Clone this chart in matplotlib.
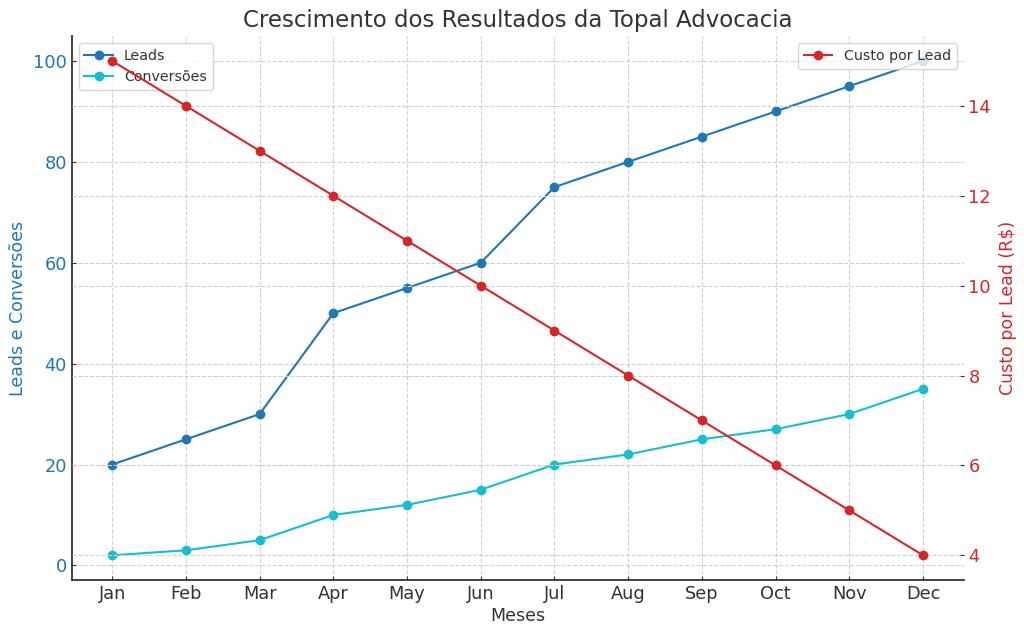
import matplotlib.pyplot as plt

# Dados
meses = ["Jan", "Feb", "Mar", "Apr", "May", "Jun", "Jul", "Aug", "Sep", "Oct", "Nov", "Dec"]
leads = [20, 25, 30, 50, 55, 60, 75, 80, 85, 90, 95, 100]
conversoes = [2, 3, 5, 10, 12, 15, 20, 22, 25, 27, 30, 35]
custo_por_lead = [15, 14, 13, 12, 11, 10, 9, 8, 7, 6, 5, 4]

texto = '#333333'
plt.rcParams['text.color'] = texto
plt.rcParams['axes.labelcolor'] = texto
plt.rcParams['xtick.color'] = texto
plt.rcParams['ytick.color'] = texto
plt.rcParams['xtick.direction'] = 'in'
plt.rcParams['ytick.direction'] = 'in'
plt.rcParams['legend.fontsize'] = 10.2

fig, ax1 = plt.subplots(figsize=(10.24, 6.36), dpi=100)

ax1.plot(meses, leads, marker='o', color='tab:blue', label='Leads')
ax1.plot(meses, conversoes, marker='o', color='tab:cyan', label='Conversões')
ax1.set_xlabel('Meses', fontsize=12.5, labelpad=3)
ax1.set_ylabel('Leads e Conversões', color='tab:blue', fontsize=12.5)
ax1.tick_params(axis='y', labelcolor='tab:blue', labelsize=12.8, length=3)
ax1.tick_params(axis='x', labelsize=12.8, length=3)
ax1.grid(True, linestyle='--', color='#d0d0d0', linewidth=0.8)
ax1.legend(loc='upper left')

ax2 = ax1.twinx()
ax2.plot(meses, custo_por_lead, marker='o', color='tab:red', label='Custo por Lead')
ax2.set_ylabel('Custo por Lead (R$)', color='tab:red', fontsize=12.5, labelpad=6)
ax2.tick_params(axis='y', labelcolor='tab:red', labelsize=12.8, length=3)
ax2.grid(True, linestyle='--', color='#d0d0d0', linewidth=0.8)
ax2.legend(loc='upper right')

for ax in (ax1, ax2):
    ax.spines['top'].set_visible(False)
    ax.spines['right'].set_visible(False)
ax2.spines['left'].set_visible(False)
ax2.spines['bottom'].set_visible(False)
ax1.spines['left'].set_color(texto)
ax1.spines['bottom'].set_color(texto)
ax1.spines['left'].set_linewidth(1.3)
ax1.spines['bottom'].set_linewidth(1.3)

plt.title('Crescimento dos Resultados da Topal Advocacia', fontsize=16.5, pad=7)
fig.subplots_adjust(left=0.07, right=0.941, top=0.943, bottom=0.088)
plt.savefig('out.png', dpi=100)
